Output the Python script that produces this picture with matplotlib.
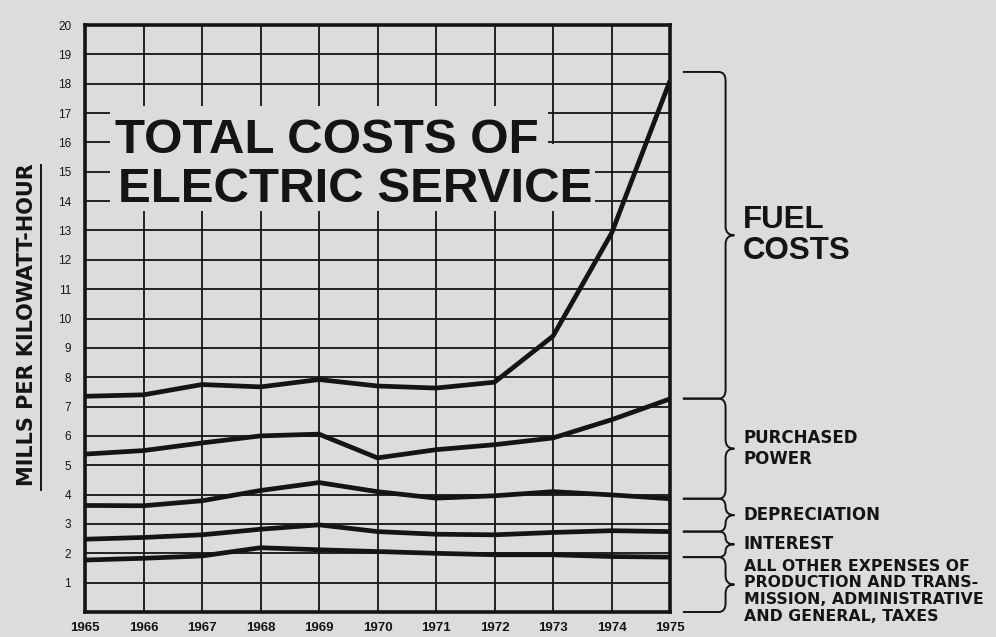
import matplotlib.pyplot as plt
from matplotlib.path import Path
from matplotlib.patches import PathPatch, Rectangle
from matplotlib.lines import Line2D

# cumulative tops of each cost band, mills per kWh
years = [1965, 1966, 1967, 1968, 1969, 1970, 1971, 1972, 1973, 1974, 1975]
total_fuel = [7.35, 7.4, 7.75, 7.67, 7.92, 7.7, 7.63, 7.83, 9.4, 12.9, 18.1]
purchased = [5.38, 5.5, 5.76, 6.0, 6.06, 5.25, 5.53, 5.7, 5.93, 6.55, 7.26]
depreciation = [3.63, 3.62, 3.79, 4.14, 4.41, 4.1, 3.88, 3.96, 4.1, 3.99, 3.86]
interest = [2.48, 2.54, 2.63, 2.82, 2.97, 2.74, 2.65, 2.63, 2.71, 2.77, 2.74]
other = [1.77, 1.83, 1.91, 2.19, 2.12, 2.06, 2.0, 1.95, 1.95, 1.89, 1.87]

brace_edges = [18.4, 7.27, 3.86, 2.74, 1.87, 0.0]
brace_labels = ["FUEL\nCOSTS", "PURCHASED\nPOWER", "DEPRECIATION", "INTEREST",
                "ALL OTHER EXPENSES OF\nPRODUCTION AND TRANS-\nMISSION, ADMINISTRATIVE\nAND GENERAL, TAXES"]

BG = "#dcdcda"
INK = "#141414"

plt.rcParams['font.family'] = ['Liberation Sans', 'DejaVu Sans']

fig = plt.figure(figsize=(9.96, 6.37), dpi=100, facecolor=BG)
ax = fig.add_axes([85 / 996, 1 - 612 / 637, 585 / 996, 587 / 637])
ax.set_facecolor(BG)

ax.set_xlim(1965, 1975)
ax.set_ylim(0, 20)
ax.set_xticks(years)
ax.set_yticks(range(1, 21))
ax.set_xticklabels([str(y) for y in years], fontsize=9.5, fontweight='bold', color=INK)
ax.set_yticklabels([str(v) for v in range(1, 21)], fontsize=8.5, color=INK)
ax.tick_params(length=0)
ax.tick_params(axis='x', pad=7)
ax.tick_params(axis='y', pad=10)
for s in ax.spines.values():
    s.set_linewidth(2.6)
    s.set_color(INK)
ax.set_axisbelow(True)
ax.grid(True, color=INK, linewidth=1.3)

# blank-out areas behind the title
ax.add_patch(Rectangle((1965.43, 15.9), 7.48, 1.35, facecolor=BG, edgecolor='none', zorder=1))
ax.add_patch(Rectangle((1965.43, 13.65), 8.29, 2.3, facecolor=BG, edgecolor='none', zorder=1))
ax.text(1965.52, 15.63, "TOTAL COSTS OF", fontsize=35.5, fontweight='bold', color=INK, zorder=2)
ax.text(1965.57, 13.96, "ELECTRIC SERVICE", fontsize=35.5, fontweight='bold', color=INK, zorder=2)

for series in [total_fuel, purchased, depreciation, interest, other]:
    ax.plot(years, series, color=INK, linewidth=3.4, solid_capstyle='butt', zorder=3)

# curly braces on the right
tr = ax.get_yaxis_transform()


def brace(ytop, ybot):
    x0, xb, xt = 1.022, 1.095, 1.11
    dx = 0.012
    dy = min(0.3, (ytop - ybot) / 4)
    ym = (ytop + ybot) / 2
    verts = [(x0, ytop), (xb - dx, ytop), (xb, ytop), (xb, ytop - dy),
             (xb, ym + dy), (xb, ym), (xt, ym), (xb, ym), (xb, ym - dy),
             (xb, ybot + dy), (xb, ybot), (xb - dx, ybot), (x0, ybot)]
    codes = [Path.MOVETO, Path.LINETO, Path.CURVE3, Path.CURVE3,
             Path.LINETO, Path.CURVE3, Path.CURVE3, Path.CURVE3, Path.CURVE3,
             Path.LINETO, Path.CURVE3, Path.CURVE3, Path.LINETO]
    ax.add_patch(PathPatch(Path(verts, codes), transform=tr, fill=False,
                           edgecolor=INK, linewidth=1.4, clip_on=False))
    return ym


for i, lab in enumerate(brace_labels):
    ym = brace(brace_edges[i], brace_edges[i + 1])
    if i == 0:
        ax.text(1.125, ym, lab, transform=tr, fontsize=22.5, fontweight='bold',
                color=INK, va='center', ha='left', linespacing=1.05)
    elif i == len(brace_labels) - 1:
        ax.text(1.126, 1.82, lab, transform=tr, fontsize=11.3, fontweight='heavy',
                family='DejaVu Sans', color=INK, va='top', ha='left', linespacing=1.15)
    else:
        ax.text(1.126, ym, lab, transform=tr, fontsize=12, fontweight='heavy',
                family='DejaVu Sans', color=INK, va='center', ha='left', linespacing=1.2)

# y axis title with rule
fig.text(27 / 996, 1 - 325 / 637, "MILLS PER KILOWATT-HOUR", rotation=90,
         fontsize=15, fontweight='bold', family='DejaVu Sans', color=INK,
         ha='center', va='center')
fig.add_artist(Line2D([41 / 996, 41 / 996], [1 - 165 / 637, 1 - 490 / 637],
                      color=INK, linewidth=1.4))

fig.savefig("out.png", dpi=100, facecolor=BG)
